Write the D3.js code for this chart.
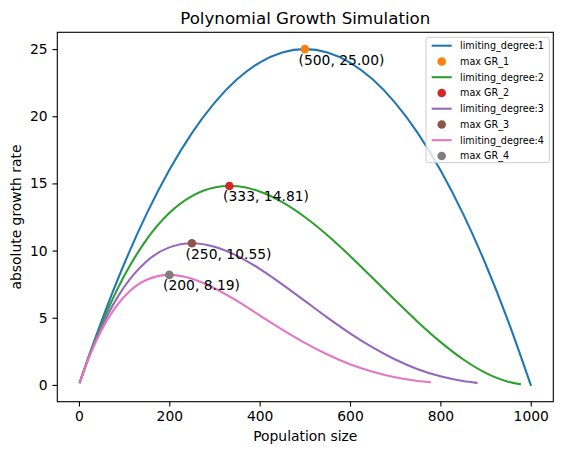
<!DOCTYPE html>
<html>
<head>
<meta charset="utf-8">
<script src="https://cdn.jsdelivr.net/npm/d3@7"></script>
<style>
  html, body { margin: 0; padding: 0; background: #fff; }
  svg { display: block; font-family: "DejaVu Sans", sans-serif; }
</style>
</head>
<body>
<svg id="chart" width="562" height="455"></svg>
<script>
// ---- data ----
const popDeg1 = [2, 25, 50, 75, 100, 150, 200, 250, 300, 350, 400, 450, 500, 550, 600, 650, 700, 750, 800, 850, 900, 950, 1000];
const rateDeg1 = [0.2, 2.44, 4.75, 6.94, 9.0, 12.75, 16.0, 18.75, 21.0, 22.75, 24.0, 24.75, 25.0, 24.75, 24.0, 22.75, 21.0, 18.75, 16.0, 12.75, 9.0, 4.75, 0.0];

const popDeg2 = [2, 25, 50, 75, 100, 150, 200, 250, 300, 333, 350, 400, 450, 500, 550, 600, 650, 700, 750, 800, 850, 900, 950, 976];
const rateDeg2 = [0.2, 2.38, 4.51, 6.42, 8.1, 10.84, 12.8, 14.06, 14.7, 14.81, 14.79, 14.4, 13.61, 12.5, 11.14, 9.6, 7.96, 6.3, 4.69, 3.2, 1.91, 0.9, 0.24, 0.06];

const popDeg3 = [2, 25, 50, 75, 100, 150, 200, 250, 300, 350, 400, 450, 500, 550, 600, 650, 700, 750, 800, 850, 880];
const rateDeg3 = [0.2, 2.32, 4.29, 5.94, 7.29, 9.21, 10.24, 10.55, 10.29, 9.61, 8.64, 7.49, 6.25, 5.01, 3.84, 2.79, 1.89, 1.17, 0.64, 0.29, 0.15];

const popDeg4 = [2, 25, 50, 75, 100, 150, 200, 250, 300, 350, 400, 450, 500, 550, 600, 650, 700, 750, 777];
const rateDeg4 = [0.2, 2.26, 4.07, 5.49, 6.56, 7.83, 8.19, 7.91, 7.2, 6.25, 5.18, 4.12, 3.13, 2.26, 1.54, 0.98, 0.57, 0.29, 0.2];

const maxPop = [500, 333, 250, 200];
const maxRate = [25.0, 14.81, 10.55, 8.19];
const maxLabels = ["(500, 25.00)", "(333, 14.81)", "(250, 10.55)", "(200, 8.19)"];

const lineNames = ["limiting_degree:1", "limiting_degree:2", "limiting_degree:3", "limiting_degree:4"];
const maxNames = ["max GR_1", "max GR_2", "max GR_3", "max GR_4"];
const lineColors = ["#1f77b4", "#2ca02c", "#9467bd", "#e377c2"];
const dotColors = ["#ff7f0e", "#d62728", "#8c564b", "#7f7f7f"];

const xTicks = [0, 200, 400, 600, 800, 1000];
const yTicks = [0, 5, 10, 15, 20, 25];

const chartTitle = "Polynomial Growth Simulation";
const xTitle = "Population size";
const yTitle = "absolute growth rate";

// ---- build ----
const series = [
  { pop: popDeg1, rate: rateDeg1 },
  { pop: popDeg2, rate: rateDeg2 },
  { pop: popDeg3, rate: rateDeg3 },
  { pop: popDeg4, rate: rateDeg4 }
];

const svg = d3.select("#chart");
const L = 57.3, R = 553.3, T = 32.3, B = 401.7;
const fs = 13.89;

const x = d3.scaleLinear().domain([-47.9, 1049.9]).range([L, R]);
const y = d3.scaleLinear().domain([-1.25, 26.25]).range([B, T]);

const plot = svg.append("g");

const line = d3.line()
  .x(d => x(d[0]))
  .y(d => y(d[1]))
  .curve(d3.curveMonotoneX);

series.forEach((s, i) => {
  const pts = s.pop.map((p, k) => [p, s.rate[k]]);
  plot.append("path")
    .attr("d", line(pts))
    .attr("fill", "none")
    .attr("stroke", lineColors[i])
    .attr("stroke-width", 2.08)
    .attr("stroke-linejoin", "round")
    .attr("stroke-linecap", "square");
  plot.append("circle")
    .attr("cx", x(maxPop[i]))
    .attr("cy", y(maxRate[i]))
    .attr("r", 4.3)
    .attr("fill", dotColors[i]);
});

// annotations
maxPop.forEach((p, i) => {
  svg.append("text")
    .attr("x", x(p) - 6.3)
    .attr("y", y(maxRate[i]) + 15.5)
    .attr("font-size", fs + "px")
    .attr("fill", "#000")
    .text(maxLabels[i]);
});

// axes
const xAxis = d3.axisBottom(x).tickValues(xTicks).tickSize(4.86).tickPadding(4.86).tickFormat(d3.format("d"));
const yAxis = d3.axisLeft(y).tickValues(yTicks).tickSize(4.86).tickPadding(4.86).tickFormat(d3.format("d"));

const gx = svg.append("g").attr("transform", `translate(0,${B})`).call(xAxis);
const gy = svg.append("g").attr("transform", `translate(${L},0)`).call(yAxis);
[gx, gy].forEach(g => {
  g.select(".domain").remove();
  g.selectAll("line").attr("stroke", "#000").attr("stroke-width", 1.1);
  g.selectAll("text").attr("font-size", fs + "px").attr("fill", "#000").attr("font-family", "DejaVu Sans");
});

// frame
svg.append("rect")
  .attr("x", L).attr("y", T)
  .attr("width", R - L).attr("height", B - T)
  .attr("fill", "none").attr("stroke", "#000").attr("stroke-width", 1.1);

// titles
svg.append("text")
  .attr("x", (L + R) / 2).attr("y", 24)
  .attr("text-anchor", "middle")
  .attr("font-size", "16.67px")
  .text(chartTitle);
svg.append("text")
  .attr("x", (L + R) / 2).attr("y", 441)
  .attr("text-anchor", "middle")
  .attr("font-size", fs + "px")
  .text(xTitle);
svg.append("text")
  .attr("transform", `translate(21,${(T + B) / 2}) rotate(-90)`)
  .attr("text-anchor", "middle")
  .attr("font-size", fs + "px")
  .text(yTitle);

// legend
const legendItems = [];
for (let i = 0; i < 4; i++) {
  legendItems.push({ type: "line", name: lineNames[i], color: lineColors[i] });
  legendItems.push({ type: "dot", name: maxNames[i], color: dotColors[i] });
}
const lg = svg.append("g");
lg.append("rect")
  .attr("x", 426).attr("y", 37.3)
  .attr("width", 123.3).attr("height", 125.4)
  .attr("rx", 2.5)
  .attr("fill", "#fff").attr("fill-opacity", 0.8)
  .attr("stroke", "#cccccc").attr("stroke-width", 1);
const rowY0 = 45.7, rowH = 15.75;
legendItems.forEach((it, k) => {
  const cy = rowY0 + k * rowH;
  if (it.type === "line") {
    lg.append("line")
      .attr("x1", 431.7).attr("x2", 451.7)
      .attr("y1", cy).attr("y2", cy)
      .attr("stroke", it.color).attr("stroke-width", 2.08);
  } else {
    lg.append("circle")
      .attr("cx", 441.7).attr("cy", cy).attr("r", 4.3)
      .attr("fill", it.color);
  }
  lg.append("text")
    .attr("x", 460).attr("y", cy + 3.5)
    .attr("font-size", "9.64px")
    .text(it.name);
});
</script>
</body>
</html>
